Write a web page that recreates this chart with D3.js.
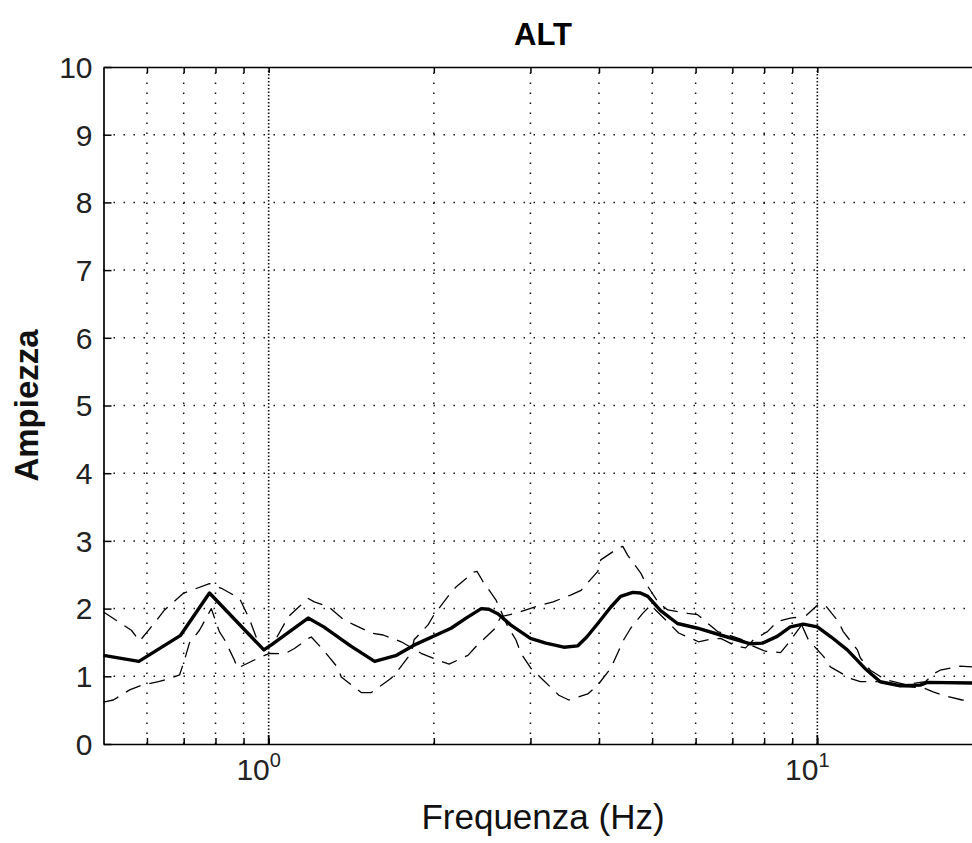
<!DOCTYPE html>
<html>
<head>
<meta charset="utf-8">
<script src="https://cdn.jsdelivr.net/npm/d3@7"></script>
<style>
  html, body { margin: 0; padding: 0; background: #fff; }
  svg { display: block; font-family: "Liberation Sans", Arial, sans-serif; }
</style>
</head>
<body>
<svg id="chart"></svg>
<script>
// frequency axis (Hz), log scale
const xDomain = [0.5, 20];
const yDomain = [0, 10];
const yTicks = [0, 1, 2, 3, 4, 5, 6, 7, 8, 9, 10];
const xGridMinor = [0.6, 0.7, 0.8, 0.9, 2, 3, 4, 5, 6, 7, 8, 9];
const xGridMajor = [1, 10];
const xTickLabels = [{ v: 1, base: "10", exp: "0" }, { v: 10, base: "10", exp: "1" }];

// mean curve (thick)
const meanFreq = [0.5, 0.58, 0.69, 0.78, 0.98, 1.01, 1.18, 1.26, 1.41, 1.56, 1.71, 1.84, 2.15, 2.29, 2.44, 2.52, 2.62, 2.76, 3.0, 3.2, 3.45, 3.66, 3.8, 3.98, 4.2, 4.38, 4.61, 4.76, 4.91, 5.18, 5.56, 6.05, 6.66, 7.55, 7.94, 8.45, 8.93, 9.43, 10.0, 10.6, 11.34, 12.2, 13.02, 14.16, 15.4, 15.86, 20];
const meanAmp = [1.31, 1.22, 1.60, 2.23, 1.39, 1.46, 1.86, 1.73, 1.45, 1.22, 1.31, 1.46, 1.71, 1.86, 2.00, 1.99, 1.92, 1.76, 1.56, 1.49, 1.43, 1.45, 1.58, 1.78, 2.02, 2.18, 2.24, 2.23, 2.18, 1.97, 1.78, 1.71, 1.61, 1.48, 1.49, 1.59, 1.73, 1.77, 1.73, 1.58, 1.39, 1.12, 0.92, 0.86, 0.87, 0.91, 0.90];

// first dashed curve
const dashAFreq = [0.5, 0.562, 0.582, 0.625, 0.646, 0.70, 0.723, 0.78, 0.82, 0.885, 0.922, 0.958, 0.982, 1.024, 1.086, 1.137, 1.181, 1.211, 1.284, 1.373, 1.432, 1.538, 1.617, 1.744, 1.896, 2.062, 2.132, 2.308, 2.387, 2.574, 2.65, 2.82, 3.13, 3.30, 3.55, 3.71, 3.98, 4.03, 4.33, 4.42, 4.51, 4.77, 4.87, 5.14, 5.34, 5.80, 6.05, 6.58, 6.89, 7.25, 7.62, 8.04, 8.57, 8.86, 9.31, 9.43, 10.0, 10.13, 10.34, 10.92, 11.15, 11.83, 11.98, 12.49, 13.30, 14.46, 15.73, 16.39, 16.74, 18.2, 20];
const dashAAmp = [1.95, 1.68, 1.52, 1.83, 1.98, 2.23, 2.27, 2.37, 2.30, 2.15, 1.85, 1.49, 1.38, 1.51, 1.88, 2.03, 2.15, 2.10, 2.03, 1.83, 1.76, 1.64, 1.61, 1.51, 1.34, 1.22, 1.18, 1.31, 1.44, 1.69, 1.88, 1.93, 2.05, 2.10, 2.20, 2.27, 2.55, 2.72, 2.89, 2.92, 2.79, 2.52, 2.37, 2.08, 1.98, 1.93, 1.91, 1.66, 1.61, 1.55, 1.45, 1.37, 1.35, 1.49, 1.73, 1.86, 2.05, 2.07, 2.05, 1.81, 1.66, 1.39, 1.27, 1.09, 0.95, 0.88, 0.92, 1.05, 1.09, 1.15, 1.13];

// second dashed curve
const dashBFreq = [0.5, 0.521, 0.558, 0.587, 0.63, 0.66, 0.688, 0.70, 0.717, 0.748, 0.786, 0.813, 0.831, 0.866, 0.877, 0.958, 1.003, 1.068, 1.114, 1.181, 1.196, 1.257, 1.339, 1.356, 1.475, 1.538, 1.672, 1.722, 1.818, 1.841, 1.952, 2.002, 2.123, 2.195, 2.367, 2.397, 2.458, 2.595, 2.729, 2.822, 2.882, 3.005, 3.16, 3.38, 3.524, 3.816, 3.979, 4.203, 4.437, 4.569, 4.805, 4.969, 5.403, 5.587, 6.075, 6.388, 6.662, 7.095, 7.398, 7.65, 8.112, 8.459, 8.932, 9.121, 9.314, 9.63, 10.27, 10.56, 11.48, 11.98, 12.86, 14.16, 15.6, 16.26, 16.95, 18.36, 20];
const dashBAmp = [0.62, 0.65, 0.80, 0.87, 0.92, 0.97, 1.02, 1.20, 1.49, 1.68, 2.00, 1.66, 1.54, 1.24, 1.12, 1.27, 1.34, 1.33, 1.41, 1.56, 1.58, 1.39, 1.12, 0.99, 0.76, 0.76, 0.97, 1.09, 1.34, 1.54, 1.76, 1.91, 2.18, 2.32, 2.54, 2.55, 2.40, 2.13, 1.73, 1.54, 1.34, 1.12, 0.95, 0.72, 0.65, 0.74, 0.87, 1.12, 1.54, 1.71, 1.93, 2.05, 1.76, 1.64, 1.51, 1.55, 1.56, 1.45, 1.42, 1.54, 1.66, 1.81, 1.86, 1.87, 1.80, 1.54, 1.29, 1.14, 0.97, 0.92, 0.92, 0.85, 0.83, 0.77, 0.72, 0.65, 0.63];

const title = "ALT";
const xLabel = "Frequenza (Hz)";
const yLabel = "Ampiezza";

const width = 972, height = 843;
const margin = { top: 67, right: -10.5, bottom: 99, left: 103.5 };

const svg = d3.select("#chart")
  .attr("width", width)
  .attr("height", height);

svg.append("rect")
  .attr("width", width)
  .attr("height", height)
  .attr("fill", "#fff");

const x = d3.scaleLog().domain(xDomain).range([margin.left, width - margin.right]);
const y = d3.scaleLinear().domain(yDomain).range([height - margin.bottom, margin.top]);

const x0 = x.range()[0], x1 = x.range()[1];
const y0 = y.range()[0], y1 = y.range()[1];

// grid
const grid = svg.append("g");
grid.selectAll("line.hg")
  .data(yTicks.filter(d => d > 0 && d < 10))
  .join("line")
  .attr("x1", x0).attr("x2", x1)
  .attr("y1", d => y(d)).attr("y2", d => y(d))
  .attr("stroke", "#111")
  .attr("stroke-width", 1.5)
  .attr("stroke-dasharray", "1.5,8.5");

grid.selectAll("line.vg")
  .data(xGridMinor)
  .join("line")
  .attr("x1", d => x(d)).attr("x2", d => x(d))
  .attr("y1", y0).attr("y2", y1)
  .attr("stroke", "#111")
  .attr("stroke-width", 1.5)
  .attr("stroke-dasharray", "1.5,8.5");

grid.selectAll("line.vmaj")
  .data(xGridMajor)
  .join("line")
  .attr("x1", d => x(d)).attr("x2", d => x(d))
  .attr("y1", y0).attr("y2", y1)
  .attr("stroke", "#111")
  .attr("stroke-width", 1.6)
  .attr("stroke-dasharray", "1.5,2");

// curves
const line = d3.line()
  .x(d => x(d[0]))
  .y(d => y(d[1]));

const series = [
  { f: dashAFreq, a: dashAAmp, w: 1.3, dash: "16,9" },
  { f: dashBFreq, a: dashBAmp, w: 1.3, dash: "16,9" },
  { f: meanFreq, a: meanAmp, w: 3.4, dash: null }
];

series.forEach(s => {
  svg.append("path")
    .datum(s.f.map((f, i) => [f, s.a[i]]))
    .attr("fill", "none")
    .attr("stroke", "#000")
    .attr("stroke-width", s.w)
    .attr("stroke-linejoin", "round")
    .attr("stroke-dasharray", s.dash)
    .attr("d", line);
});

// axes frame with inward ticks
const axisStyle = g => {
  g.select(".domain").attr("stroke", "#000").attr("stroke-width", 1.7);
  g.selectAll(".tick line").attr("stroke", "#000").attr("stroke-width", 1.5);
};

svg.append("g")
  .attr("transform", `translate(0,${y0})`)
  .call(d3.axisBottom(x).tickValues(xGridMinor.concat(xGridMajor)).tickSize(-6).tickSizeOuter(0).tickFormat(""))
  .call(axisStyle);

svg.append("g")
  .attr("transform", `translate(0,${y1})`)
  .call(d3.axisTop(x).tickValues(xGridMinor.concat(xGridMajor)).tickSize(-6).tickSizeOuter(0).tickFormat(""))
  .call(axisStyle);

svg.append("g")
  .attr("transform", `translate(${x0},0)`)
  .call(d3.axisLeft(y).tickValues(yTicks).tickSize(-8).tickSizeOuter(0).tickFormat(""))
  .call(axisStyle);

// major ticks a bit longer
svg.selectAll("line.majtick")
  .data(xGridMajor)
  .join("line")
  .attr("x1", d => x(d)).attr("x2", d => x(d))
  .attr("y1", y0).attr("y2", y0 - 9)
  .attr("stroke", "#000").attr("stroke-width", 1.7);

// y tick labels
svg.append("g").selectAll("text")
  .data(yTicks)
  .join("text")
  .attr("x", x0 - 11)
  .attr("y", d => y(d))
  .attr("dy", "0.36em")
  .attr("text-anchor", "end")
  .attr("font-size", 30)
  .attr("fill", "#222")
  .text(d => d);

// x tick labels with exponent
const xl = svg.append("g").selectAll("text")
  .data(xTickLabels)
  .join("text")
  .attr("x", d => x(d.v) - 10)
  .attr("y", y0 + 36)
  .attr("text-anchor", "middle")
  .attr("font-size", 30)
  .attr("fill", "#222");
xl.append("tspan").text(d => d.base);
xl.append("tspan").attr("dy", -13).attr("font-size", 20).text(d => d.exp);

// title and axis labels
svg.append("text")
  .attr("x", (x0 + x1) / 2)
  .attr("y", 45)
  .attr("text-anchor", "middle")
  .attr("font-size", 31)
  .attr("font-weight", "bold")
  .text(title);

svg.append("text")
  .attr("x", (x0 + x1) / 2)
  .attr("y", 829)
  .attr("text-anchor", "middle")
  .attr("font-size", 35)
  .attr("fill", "#111")
  .text(xLabel);

svg.append("text")
  .attr("transform", `translate(38,${(y0 + y1) / 2}) rotate(-90)`)
  .attr("text-anchor", "middle")
  .attr("font-size", 33)
  .attr("font-weight", "bold")
  .attr("fill", "#111")
  .text(yLabel);
</script>
</body>
</html>
